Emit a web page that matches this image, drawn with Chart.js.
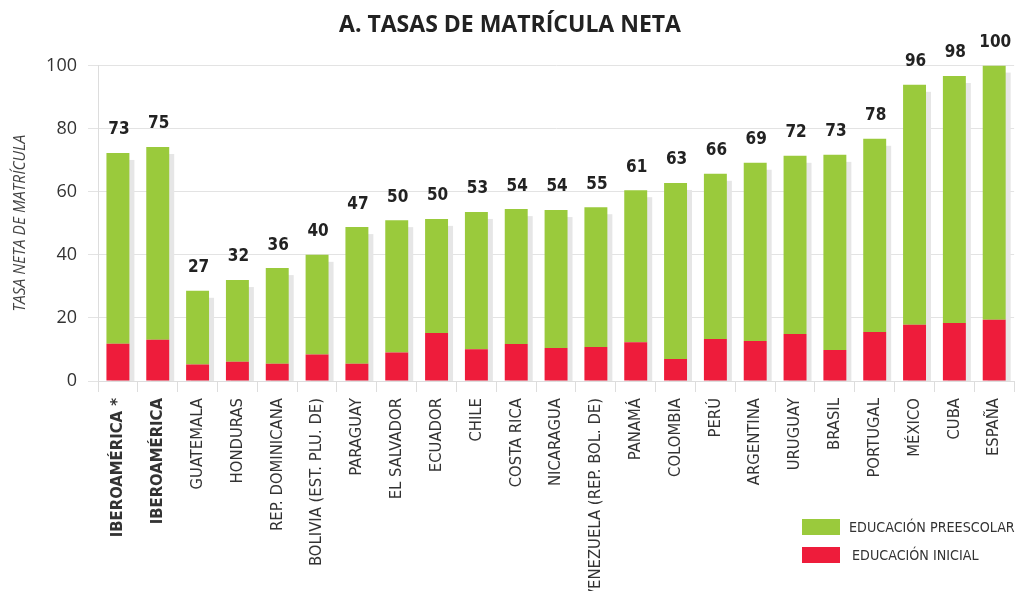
<!DOCTYPE html>
<html>
<head>
<meta charset="utf-8">
<script src="https://cdn.jsdelivr.net/npm/chart.js@4.4.1/dist/chart.umd.min.js"></script>
<style>
  html, body { margin: 0; padding: 0; background: #fff; }
  #wrap { position: relative; width: 1020px; height: 591px; overflow: hidden; }
  #legend { position: absolute; left: 802px; top: 513px; font-family: 'Liberation Sans Narrow', 'DejaVu Sans Condensed', 'Open Sans', sans-serif; font-size: 14.2px; color: #333; white-space: nowrap; }
  .li { display: flex; align-items: center; height: 28px; }
  .sw { width: 38px; height: 16px; margin-right: 9px; flex: none; }
</style>
</head>
<body>
<div id="wrap">
  <canvas id="c" width="1020" height="591"></canvas>
  <div id="legend">
    <div class="li"><span class="sw" style="background:#9aca3c"></span><span>EDUCACIÓN PREESCOLAR</span></div>
    <div class="li"><span class="sw" style="background:#ee1c3b"></span><span style="margin-left:3px">EDUCACIÓN INICIAL</span></div>
  </div>
</div>
<script>
const categories = ['IBEROAMÉRICA *','IBEROAMÉRICA','GUATEMALA','HONDURAS','REP. DOMINICANA','BOLIVIA (EST. PLU. DE)','PARAGUAY','EL SALVADOR','ECUADOR','CHILE','COSTA RICA','NICARAGUA','VENEZUELA (REP. BOL. DE)','PANAMÁ','COLOMBIA','PERÚ','ARGENTINA','URUGUAY','BRASIL','PORTUGAL','MÉXICO','CUBA','ESPAÑA'];
const inicial = [11.8,13.1,5.2,6.1,5.5,8.4,5.5,9.0,15.2,10.1,11.7,10.5,10.8,12.3,7.0,13.3,12.7,14.9,9.8,15.5,17.8,18.4,19.4];
const preescolar = [60.5,61.1,23.4,25.9,30.3,31.6,43.3,42.0,36.2,43.5,42.8,43.7,44.3,48.2,55.8,52.4,56.5,56.5,61.9,61.3,76.1,78.3,80.6];
const totalLabels = [73,75,27,32,36,40,47,50,50,53,54,54,55,61,63,66,69,72,73,78,96,98,100];
const yTicks = [0,20,40,60,80,100];

const NARROW = "'Liberation Sans Narrow', 'DejaVu Sans Condensed', 'Open Sans', sans-serif";

const shadowPlugin = {
  id: 'shadow',
  beforeDatasetsDraw(chart) {
    const ctx = chart.ctx;
    const top = chart.getDatasetMeta(1).data;
    const bottomY = chart.scales.y.getPixelForValue(0);
    ctx.save();
    ctx.fillStyle = '#e6e6e6';
    top.forEach(bar => {
      const p = bar.getProps(['x','y','width'], true);
      ctx.fillRect(p.x - p.width/2 + 5, p.y + 7, p.width, bottomY - p.y - 7);
    });
    ctx.restore();
  },
  afterDatasetsDraw(chart) {
    const ctx = chart.ctx;
    const top = chart.getDatasetMeta(1).data;
    ctx.save();
    ctx.fillStyle = '#222';
    ctx.font = 'bold 17px ' + NARROW;
    ctx.textAlign = 'center';
    ctx.textBaseline = 'middle';
    top.forEach((bar, i) => {
      const p = bar.getProps(['x','y'], true);
      ctx.fillText(String(totalLabels[i]), p.x + 1, p.y - 23);
    });
    ctx.restore();
  }
};

new Chart(document.getElementById('c'), {
  type: 'bar',
  data: {
    labels: categories,
    datasets: [
      { label: 'EDUCACIÓN INICIAL', data: inicial, backgroundColor: '#ee1c3b', barPercentage: 0.64, categoryPercentage: 0.9 },
      { label: 'EDUCACIÓN PREESCOLAR', data: preescolar, backgroundColor: '#9aca3c', barPercentage: 0.64, categoryPercentage: 0.9 }
    ]
  },
  options: {
    responsive: false,
    animation: false,
    layout: { padding: { left: 0, right: 0, top: 0, bottom: 0 } },
    plugins: {
      legend: { display: false },
      tooltip: { enabled: false },
      title: {
        display: true,
        text: 'A. TASAS DE MATRÍCULA NETA',
        color: '#222',
        font: { family: "'Open Sans', sans-serif", size: 23, weight: 'bold' },
        padding: { top: 12, bottom: 26 }
      }
    },
    scales: {
      x: {
        stacked: true,
        grid: { drawOnChartArea: false, drawTicks: true, tickLength: 11, color: '#dddddd' },
        border: { color: '#dddddd' },
        ticks: {
          autoSkip: false, maxRotation: 90, minRotation: 90, padding: 6, color: '#333',
          font: (c) => ({ family: NARROW, size: 16.5, weight: c.index < 2 ? 'bold' : 'normal' })
        },
        afterFit(s) { s.height = 210; }
      },
      y: {
        stacked: true,
        min: 0, max: 100,
        afterBuildTicks(s) { s.ticks = yTicks.map(v => ({ value: v })); },
        grid: { color: '#e3e3e3', tickLength: 10 },
        border: { color: '#dddddd' },
        ticks: { padding: 11, color: '#333', font: { family: "'Open Sans', sans-serif", size: 18 } },
        title: {
          display: true, text: 'TASA NETA DE MATRÍCULA', color: '#444',
          font: { family: "'Open Sans', sans-serif", size: 15.5, style: 'italic' },
          padding: { top: 11, bottom: 0 }
        },
        afterFit(s) { s.width = 98; }
      }
    }
  },
  plugins: [shadowPlugin]
});
</script>
</body>
</html>
